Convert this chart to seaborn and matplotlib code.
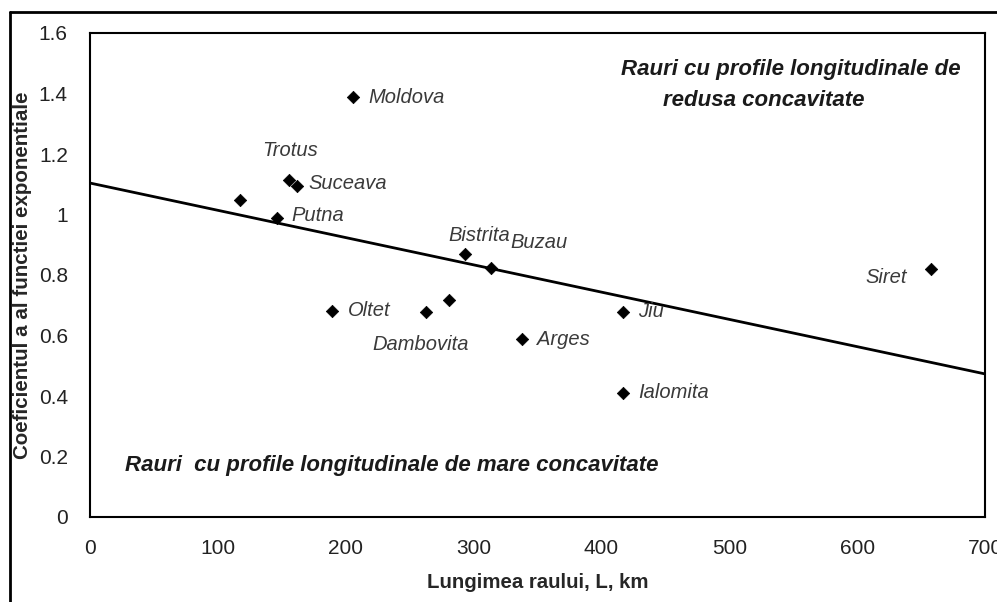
import matplotlib
matplotlib.use("Agg")
import matplotlib.pyplot as plt
import seaborn as sns
import pandas as pd
from matplotlib.lines import Line2D

# ---- data ----
rivers = ["", "Putna", "Trotus", "Suceava", "Moldova", "Bistrita", "Buzau",
          "Oltet", "Dambovita", "", "Arges", "Jiu", "Ialomita", "Siret"]
length_km = [117, 146, 156, 162, 206, 293, 314, 189, 263, 281, 338, 417, 417, 658]
coef_a = [1.048, 0.988, 1.114, 1.094, 1.388, 0.869, 0.823, 0.681, 0.678, 0.716,
          0.588, 0.678, 0.410, 0.820]
trend_x = [0, 700]
trend_y = [1.104, 0.473]
x_ticks = [0, 100, 200, 300, 400, 500, 600, 700]
y_ticks = [0, 0.2, 0.4, 0.6, 0.8, 1.0, 1.2, 1.4, 1.6]
y_tick_labels = ["0", "0.2", "0.4", "0.6", "0.8", "1", "1.2", "1.4", "1.6"]

df = pd.DataFrame({"L": length_km, "a": coef_a, "river": rivers})

sns.set_style("white")
plt.rcParams["font.family"] = ["Liberation Sans", "DejaVu Sans"]

W, H = 997, 602
fig = plt.figure(figsize=(W / 100, H / 100), dpi=100)
ax = fig.add_axes([90 / W, (H - 517) / H, (985 - 90) / W, (517 - 33) / H])

sns.lineplot(x=trend_x, y=trend_y, ax=ax, color="black", linewidth=2.0)
sns.scatterplot(data=df, x="L", y="a", ax=ax, marker="D", s=40,
                color="black", edgecolor="black", linewidth=0.5, zorder=3)

# label offsets in pixels (style only)
offsets = {
    "Moldova": (15, 0, "left"), "Trotus": (1, 30, "center"),
    "Suceava": (11, 3, "left"), "Putna": (15, 3, "left"),
    "Bistrita": (-16, 19, "left"), "Buzau": (19, 26, "left"),
    "Oltet": (16, 0, "left"), "Dambovita": (-6, -33, "center"),
    "Arges": (15, 0, "left"), "Jiu": (15, 0, "left"),
    "Ialomita": (15, 0, "left"), "Siret": (-24, -9, "right"),
}
for L, a, name in zip(length_km, coef_a, rivers):
    if not name:
        continue
    dx, dy, ha = offsets[name]
    ax.annotate(name, (L, a), xytext=(dx * 0.72, dy * 0.72),
                textcoords="offset points", ha=ha, va="center",
                fontsize=14.5, fontstyle="italic", color="#3a3a3a")

note_kw = dict(transform=fig.transFigure, va="center", fontsize=16,
               fontstyle="italic", fontweight="bold", color="#1a1a1a")
fig.text(791 / W, 1 - 70 / H, "Rauri cu profile longitudinale de", ha="center", **note_kw)
fig.text(764 / W, 1 - 100 / H, "redusa concavitate", ha="center", **note_kw)
fig.text(125 / W, 1 - 466 / H, "Rauri  cu profile longitudinale de mare concavitate",
         ha="left", **note_kw)

ax.set_xlim(0, 700)
ax.set_ylim(0, 1.6)
ax.set_xticks(x_ticks)
ax.set_yticks(y_ticks)
ax.set_yticklabels(y_tick_labels)
ax.tick_params(axis="both", labelsize=15, length=4, direction="out",
               color="#555555", labelcolor="#222222")
ax.tick_params(axis="y", pad=12)
ax.tick_params(axis="x", pad=12)
ax.set_xlabel("Lungimea raului, L, km", fontsize=14.7, fontweight="bold", labelpad=11)
ax.set_ylabel("Coeficientul a al functiei exponentiale", fontsize=14.8,
              fontweight="bold", labelpad=5)
for s in ax.spines.values():
    s.set_color("black")
    s.set_linewidth(1.5)

# outer frame of the picture
fig.add_artist(Line2D([10 / W, 10 / W], [0, 1 - 12 / H], transform=fig.transFigure,
                      color="black", linewidth=2))
fig.add_artist(Line2D([10 / W, 1], [1 - 12 / H, 1 - 12 / H], transform=fig.transFigure,
                      color="black", linewidth=2))

fig.savefig("out.png", dpi=100)
